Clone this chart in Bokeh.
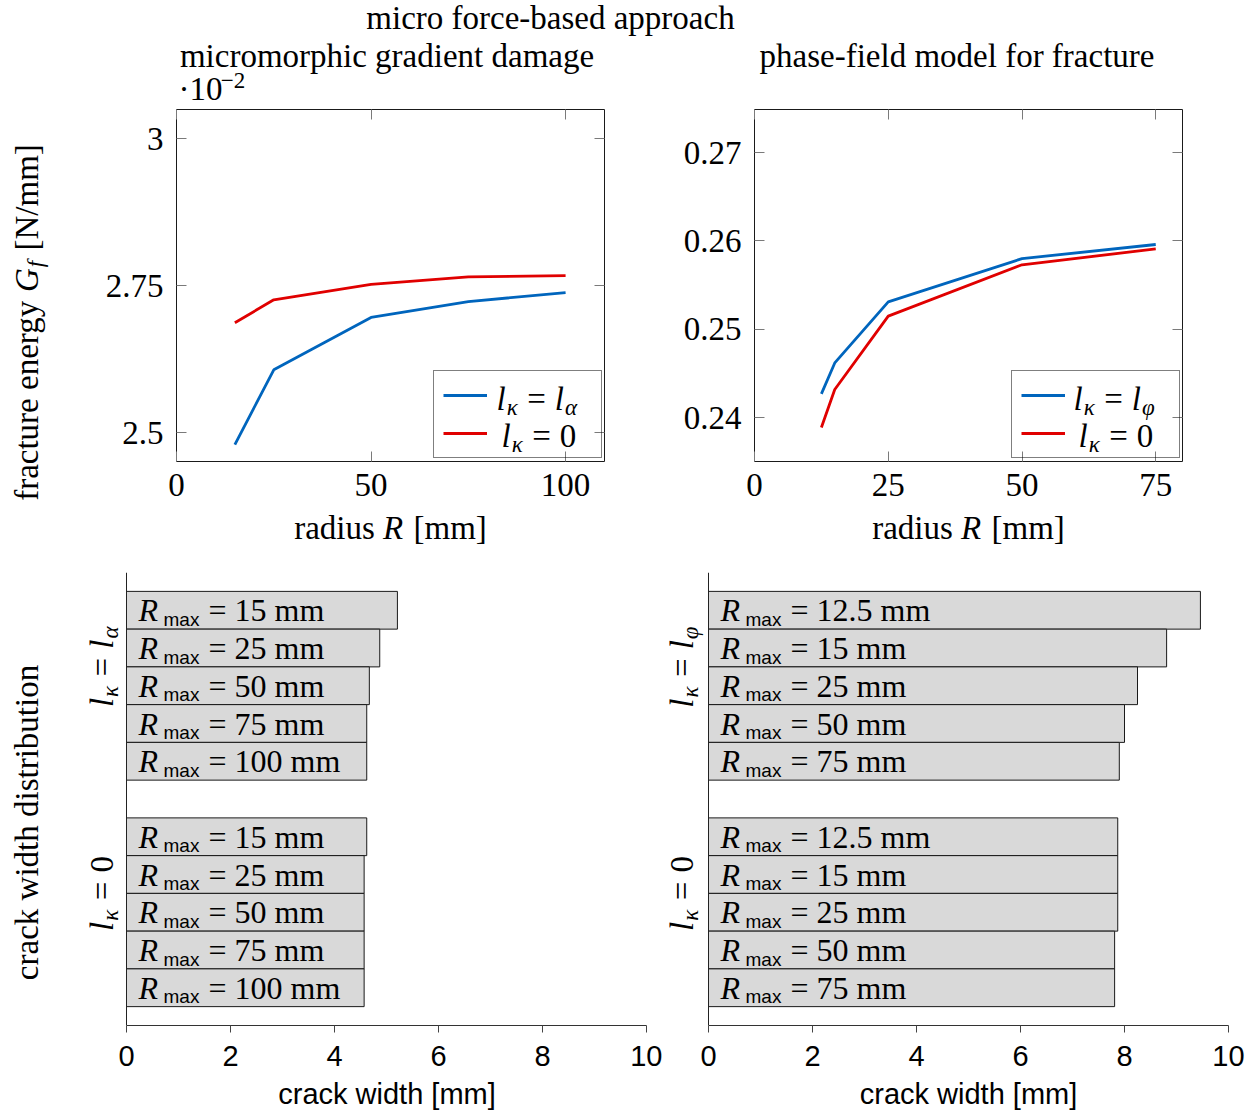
import math
from bokeh.plotting import figure
from bokeh.layouts import column, row
from bokeh.models import (Range1d, FixedTicker, LinearAxis, Legend, LegendItem,
                          Label, ColumnDataSource, Plot)
from bokeh.core.properties import value
from bokeh.embed import file_html
from bokeh.resources import INLINE

# ---------------- data ----------------
R_gd = [15, 25, 50, 75, 100]
Gf_gd_la = [2.480, 2.607, 2.696, 2.723, 2.738]      # x 10^-2 N/mm
Gf_gd_0 = [2.687, 2.726, 2.752, 2.765, 2.767]
R_pf = [12.5, 15, 25, 50, 75]
Gf_pf_lp = [0.2427, 0.2462, 0.2531, 0.2580, 0.2596]
Gf_pf_0 = [0.2389, 0.2432, 0.2515, 0.2573, 0.2591]

rmax_gd = ["15", "25", "50", "75", "100"]
rmax_pf = ["12.5", "15", "25", "50", "75"]
cw_gd_la = [5.21, 4.87, 4.67, 4.62, 4.62]
cw_gd_0 = [4.62, 4.57, 4.57, 4.57, 4.57]
cw_pf_lp = [9.46, 8.81, 8.25, 8.00, 7.90]
cw_pf_0 = [7.87, 7.87, 7.87, 7.81, 7.81]

gd_xticks = [0, 50, 100]
gd_yticks = [2.5, 2.75, 3.0]
gd_ylabels = ["2.5", "2.75", "3"]
pf_xticks = [0, 25, 50, 75]
pf_yticks = [0.24, 0.25, 0.26, 0.27]
pf_ylabels = ["0.24", "0.25", "0.26", "0.27"]
cw_ticks = [0, 2, 4, 6, 8, 10]
cw_max = 10

BLUE = "#0065bd"
RED = "#e00000"
SERIF = "Liberation Serif"
SANS = "Liberation Sans"
FS = 33
FSUB = 23
FSANS = 29
K = 0.28   # baseline correction (fraction of font size)
HAS_FA = "frame_align" in Plot.properties()

# ---------------- text metrics (Times / Arial) ----------------
TIMES = dict(zip("abcdefghijklmnopqrstuvwxyz",
                 [444, 500, 444, 500, 444, 333, 500, 500, 278, 278, 500, 278, 778,
                  500, 500, 500, 500, 333, 389, 278, 500, 500, 722, 500, 500, 444]))
TIMES.update(dict(zip("ABCDEFGHIJKLMNOPQRSTUVWXYZ",
                      [722, 667, 667, 722, 611, 556, 722, 722, 333, 389, 722, 611, 889,
                       722, 722, 556, 722, 667, 556, 611, 722, 722, 944, 722, 722, 611])))
TIMES.update({c: 500 for c in "0123456789"})
TIMES.update({" ": 250, "[": 333, "]": 333, "/": 278, "-": 333, ".": 250,
              "=": 564, "\u00b7": 250, "\u2212": 564})
TIMESI = dict(TIMES)
TIMESI.update({"G": 722, "R": 611, "f": 278, "l": 278,
               "\u03ba": 500, "\u03b1": 550, "\u03c6": 600})
ARIAL = {"m": 833, "a": 556, "x": 500, "c": 500, "r": 333, "k": 500, " ": 278,
         "w": 722, "i": 222, "d": 556, "t": 278, "h": 556, "[": 278, "]": 278}


def tw(s, size, style, font):
    tab = ARIAL if font == SANS else (TIMESI if style == "italic" else TIMES)
    return sum(tab.get(c, 500) for c in s) * size / 1000.0


def put(fig, org, text, px, py, size, font=SERIF, style="normal", angle=0.0, align="left"):
    rx = px - org[0] - math.sin(angle) * K * size
    ry = org[1] - py + math.cos(angle) * K * size
    fig.add_layout(Label(x=rx, y=ry, x_units="screen", y_units="screen", text=text,
                         text_font=font, text_font_size=f"{size}px", text_font_style=style,
                         angle=angle, text_align=align, text_baseline="alphabetic",
                         text_color="black"))


def comp(fig, org, pieces, anchor, angle=0.0, center=False):
    """pieces: (text, size, style, font, drop_px, gap_before_px); page coords."""
    clean = []
    for (t, sz, st, fn, dr, g) in pieces:
        lead = len(t) - len(t.lstrip(" "))
        if lead:
            g += tw(" " * lead, sz, st, fn)
            t = t.lstrip(" ")
        clean.append((t, sz, st, fn, dr, g))
    ws = [tw(t, sz, st, fn) for (t, sz, st, fn, dr, g) in clean]
    total = sum(ws) + sum(p[5] for p in clean)
    dx, dy = math.cos(angle), -math.sin(angle)
    nx, ny = math.sin(angle), math.cos(angle)
    ax, ay = anchor
    if center:
        ax -= dx * total / 2
        ay -= dy * total / 2
    pos = 0.0
    for (t, sz, st, fn, dr, g), w in zip(clean, ws):
        pos += g
        put(fig, org, t, ax + dx * pos + nx * dr, ay + dy * pos + ny * dr, sz, fn, st, angle)
        pos += w


def lk_pieces(rhs, fs=FS, fsub=FSUB, drop=5):
    p = [("l", fs, "italic", SERIF, 0, 0), ("\u03ba", fsub, "italic", SERIF, drop, 1),
         ("=", fs, "normal", SERIF, 0, 9)]
    if rhs == "0":
        p.append(("0", fs, "normal", SERIF, 0, 9))
    else:
        p += [("l", fs, "italic", SERIF, 0, 9), (rhs, fsub, "italic", SERIF, drop, 1)]
    return p


def textfig(w, h):
    f = figure(width=w, height=h, x_axis_location=None, y_axis_location=None,
               min_border=0, title=None, output_backend="svg", toolbar_location=None,
               x_range=Range1d(0, 1), y_range=Range1d(0, 1))
    f.grid.visible = False
    f.outline_line_color = None
    if HAS_FA:
        f.frame_align = False
    return f


# ---------------- page origins (left, bottom) of each drawing area ----------------
TA = (0, 106)
TL = (176, 461)
TR = (754, 461)
XL = (0, 556)
YL = (0, 511) if HAS_FA else (0, 461)
BL = (0, 1025)     # frame of the lower-left plot starts at the page edge
BR = (662, 1025)
XB = (0, 1115)

# ---------------- title band ----------------
ta = textfig(1257, 106)
put(ta, TA, "micro force-based approach", 550, 27, FS, align="center")
put(ta, TA, "micromorphic gradient damage", 386.5, 65, FS, align="center")
put(ta, TA, "phase-field model for fracture", 956.5, 65, FS, align="center")
comp(ta, TA, [("\u00b710", FS, "normal", SERIF, 0, 0),
              ("\u22122", FSUB, "normal", SERIF, -12, 1)], (178, 98))


# ---------------- top plots ----------------
def style_tick_axis(ax, font, size, standoff):
    ax.major_tick_in = 10
    ax.major_tick_out = 0
    ax.minor_tick_line_color = None
    ax.major_tick_line_color = "#7a7a7a"
    ax.major_tick_line_width = 1
    ax.axis_line_color = None
    ax.major_label_text_font = font
    ax.major_label_text_font_size = f"{size}px"
    ax.major_label_text_color = "black"
    ax.major_label_standoff = standoff


def top_fig(width, mbl, mbr, xr, yr, xticks, yticks, ylabels):
    p = figure(width=width, height=405, min_border_left=mbl, min_border_right=mbr,
               min_border_top=3, min_border_bottom=50, x_range=Range1d(*xr),
               y_range=Range1d(*yr), output_backend="svg", toolbar_location=None,
               title=None)
    p.grid.visible = False
    p.outline_line_color = "#1a1a1a"
    p.outline_line_width = 1
    p.xaxis.ticker = FixedTicker(ticks=xticks)
    p.yaxis.ticker = FixedTicker(ticks=yticks)
    p.yaxis.major_label_overrides = dict(zip(yticks, ylabels))
    for ax in p.xaxis:
        style_tick_axis(ax, SERIF, FS, 12)
    for ax in p.yaxis:
        style_tick_axis(ax, SERIF, FS, 13)
    top = LinearAxis(ticker=FixedTicker(ticks=xticks),
                     major_label_overrides={t: "" for t in xticks})
    right = LinearAxis(ticker=FixedTicker(ticks=yticks),
                       major_label_overrides={t: "" for t in yticks})
    style_tick_axis(top, SERIF, 0, 0)
    style_tick_axis(right, SERIF, 0, 0)
    p.add_layout(top, "above")
    p.add_layout(right, "right")
    return p


yl = textfig(60, 405)
tl = top_fig(614, 116, 70, (0, 110), (2.4512, 3.0493), gd_xticks, gd_yticks, gd_ylabels)
tr = top_fig(583, 80, 75, (0, 80), (0.23505, 0.27487), pf_xticks, pf_yticks, pf_ylabels)

b1 = tl.line(R_gd, Gf_gd_la, line_color=BLUE, line_width=2.8)
r1 = tl.line(R_gd, Gf_gd_0, line_color=RED, line_width=2.8)
b2 = tr.line(R_pf, Gf_pf_lp, line_color=BLUE, line_width=2.8)
r2 = tr.line(R_pf, Gf_pf_0, line_color=RED, line_width=2.8)

for fig, b, r in ((tl, b1, r1), (tr, b2, r2)):
    leg = Legend(items=[LegendItem(label=" ", renderers=[b]),
                        LegendItem(label=" ", renderers=[r])],
                 location=(257, 3), glyph_width=44, glyph_height=30, label_height=30,
                 label_width=97, label_standoff=8, padding=9, spacing=8, margin=0,
                 border_line_color="black", border_line_width=1,
                 background_fill_alpha=0.0, label_text_font_size="8px")
    fig.add_layout(leg)

comp(yl, YL, [("fracture energy ", FS, "normal", SERIF, 0, 0),
              ("G", FS, "italic", SERIF, 0, 0),
              ("f", FSUB, "italic", SERIF, 5, 1),
              (" [N/mm]", FS, "normal", SERIF, 0, 2)],
     (36, 322), angle=math.pi / 2, center=True)

comp(tl, TL, lk_pieces("\u03b1"), (496, 408))
comp(tl, TL, lk_pieces("0"), (501, 445))
comp(tr, TR, lk_pieces("\u03c6"), (1073, 408))
comp(tr, TR, lk_pieces("0"), (1078, 445))

# x axis label band for the top plots
xl = textfig(1257, 45)
rad = [("radius ", FS, "normal", SERIF, 0, 0), ("R", FS, "italic", SERIF, 0, 0),
       (" [mm]", FS, "normal", SERIF, 0, 2)]
comp(xl, XL, rad, (390, 537), center=True)
comp(xl, XL, rad, (968, 537), center=True)

# ---------------- bottom plots ----------------
POS = [0, 1, 2, 3, 4, 6, 7, 8, 9, 10]
PX_PER_MM = 52.0   # 520 px for the 0..10 mm axis


def bot_fig(width, mbr, pad_px, widths, rlabels):
    # frame starts pad_px to the left of x = 0 so that the group labels fit inside it
    p = figure(width=width, height=523, min_border_left=0, min_border_right=mbr,
               min_border_top=16, min_border_bottom=54,
               x_range=Range1d(-pad_px / PX_PER_MM, cw_max),
               y_range=Range1d(11, -1), output_backend="svg", toolbar_location=None,
               title=None)
    p.grid.visible = False
    p.outline_line_color = None
    xa = p.xaxis[0]
    xa.bounds = (0, cw_max)
    xa.ticker = FixedTicker(ticks=cw_ticks)
    xa.major_tick_out = 7
    xa.major_tick_in = 0
    xa.minor_tick_line_color = None
    xa.major_tick_line_color = "#444444"
    xa.axis_line_color = "#333333"
    xa.major_label_text_font = SANS
    xa.major_label_text_font_size = f"{FSANS}px"
    xa.major_label_text_color = "black"
    xa.major_label_standoff = 13
    ya = p.yaxis[0]
    ya.fixed_location = 0
    ya.ticker = FixedTicker(ticks=[])
    ya.major_tick_line_color = None
    ya.minor_tick_line_color = None
    ya.major_label_text_font_size = "0px"
    ya.axis_line_color = "#222222"
    src = ColumnDataSource(dict(y=POS, right=widths,
                                lab=["= " + r + " mm" for r in rlabels] * 2))
    p.hbar(y="y", left=0, right="right", height=1, source=src,
           fill_color="#d9d9d9", line_color="#1a1a1a", line_width=1)
    p.text(x=0, y="y", text=value("R"), source=src, x_offset=12, y_offset=0,
           text_font=value(SERIF), text_font_size=f"{FS - 1}px", text_font_style="italic",
           text_baseline="alphabetic", text_align="left", text_color="black")
    p.text(x=0, y="y", text=value("max"), source=src, x_offset=37, y_offset=9,
           text_font=value(SANS), text_font_size="19px",
           text_baseline="alphabetic", text_align="left", text_color="black")
    p.text(x=0, y="y", text="lab", source=src, x_offset=82, y_offset=0,
           text_font=value(SERIF), text_font_size=f"{FS - 1}px",
           text_baseline="alphabetic", text_align="left", text_color="black")
    return p


bl = bot_fig(662, 16, 126, cw_gd_la + cw_gd_0, rmax_gd)
br = bot_fig(595, 29, 46, cw_pf_lp + cw_pf_0, rmax_pf)

put(bl, BL, "crack width distribution", 35.5, 822, FS, angle=math.pi / 2, align="center")
comp(bl, BL, lk_pieces("\u03b1"), (111, 666), angle=math.pi / 2, center=True)
comp(bl, BL, lk_pieces("0"), (111, 893), angle=math.pi / 2, center=True)
comp(br, BR, lk_pieces("\u03c6"), (691, 666), angle=math.pi / 2, center=True)
comp(br, BR, lk_pieces("0"), (691, 893), angle=math.pi / 2, center=True)

# x axis label band for the bottom plots
xb = textfig(1257, 36)
put(xb, XB, "crack width [mm]", 386.5, 1102, FSANS, font=SANS, align="center")
put(xb, XB, "crack width [mm]", 968, 1102, FSANS, font=SANS, align="center")

layout = column(ta, row(yl, tl, tr), xl, row(bl, br), xb)
open("out.html", "w").write(file_html(layout, INLINE))
